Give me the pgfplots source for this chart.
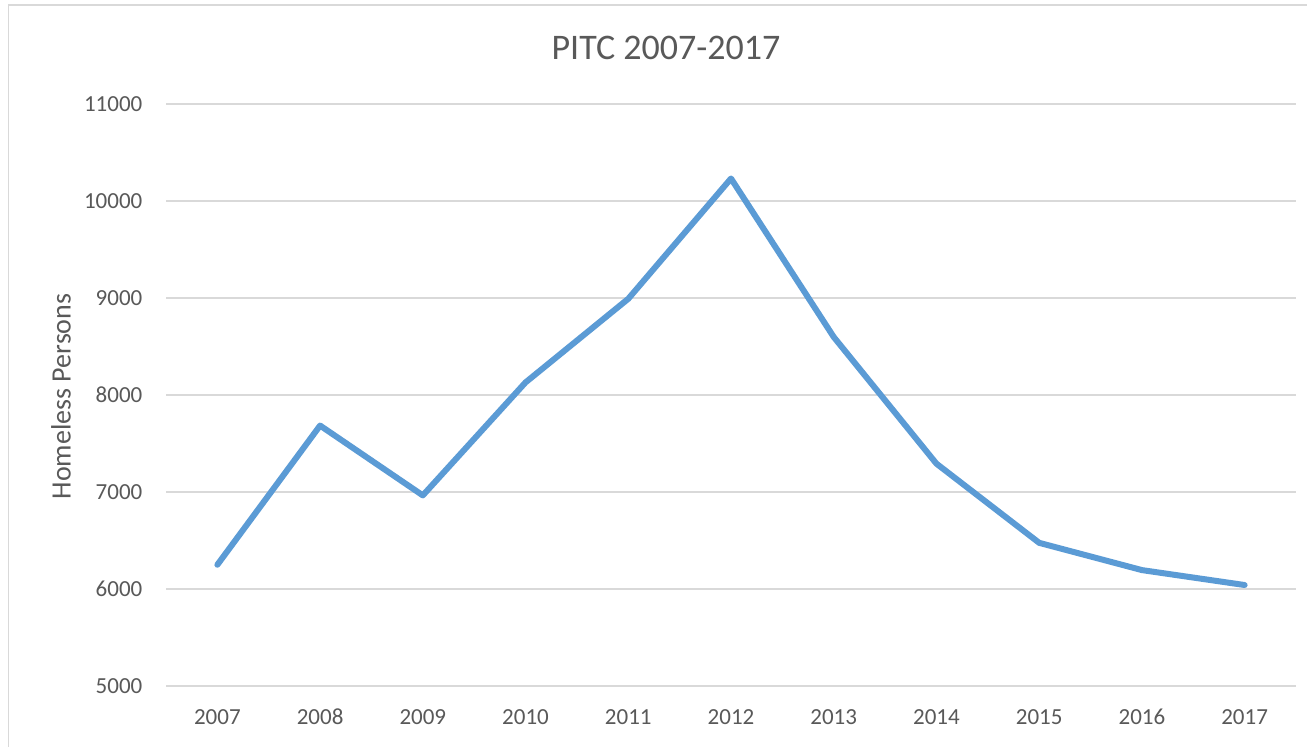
\documentclass[border=0pt]{standalone}
\usepackage{pgfplots}
\pgfplotsset{compat=1.18}
\usepackage{fontspec}
\setmainfont{Carlito}
\definecolor{txtgray}{HTML}{595959}
\definecolor{gridgray}{HTML}{D9D9D9}
\definecolor{lineblue}{HTML}{5B9BD5}
\pgfplotsset{every axis title shift=0pt}
\begin{document}
\begin{tikzpicture}
\useasboundingbox (0,0) rectangle (653.5pt,373pt);
\fill[white] (0,0) rectangle (653.5pt,373pt);
\draw[gridgray, line width=0.9pt] (4.25pt,-10pt) rectangle (700pt,370.5pt);
\begin{axis}[
  at={(83pt,30pt)}, anchor=south west,
  scale only axis, width=565pt, height=291pt,
  xmin=-0.5, xmax=10.5, ymin=5000, ymax=11000,
  xtick={0,1,2,3,4,5,6,7,8,9,10},
  xticklabels={2007,2008,2009,2010,2011,2012,2013,2014,2015,2016,2017},
  ytick={5000,6000,7000,8000,9000,10000,11000},
  scaled y ticks=false,
  yticklabel={\pgfmathprintnumber[fixed,precision=0,1000 sep={}]{\tick}},
  /pgf/number format/assume math mode=true,
  /pgf/number format/1000 sep={},
  axis line style={draw=none},
  major tick length=0pt,
  ymajorgrids,
  grid style={gridgray, line width=0.85pt},
  ticklabel style={font=\fontsize{11.5}{13}\selectfont, text=txtgray},
  xticklabel style={anchor=base, yshift=-19pt},
  yticklabel style={xshift=-8.3pt},
  title={PITC 2007-2017},
  title style={at={(axis description cs:0.4425,1.0967)}, anchor=center, font=\fontsize{18}{21}\selectfont, text=txtgray},
  ylabel={Homeless Persons},
  ylabel style={at={(axis description cs:-0.093,0.4976)}, anchor=center, font=\fontsize{14}{16}\selectfont, text=txtgray},
  clip=false,
]
\addplot[lineblue, line width=3pt, line join=round, line cap=round] coordinates {
 (0,6250) (1,7685) (2,6965) (3,8130) (4,8992) (5,10232) (6,8598) (7,7292) (8,6476) (9,6195) (10,6041)
};
\end{axis}
\end{tikzpicture}
\end{document}
